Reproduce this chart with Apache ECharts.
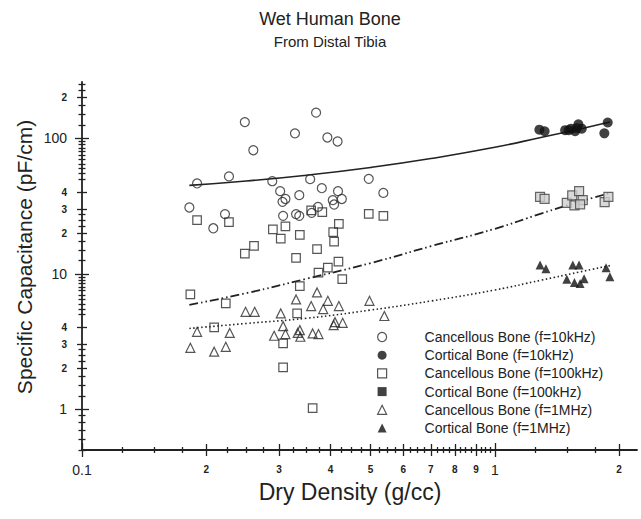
<!DOCTYPE html>
<html><head><meta charset="utf-8">
<script src="https://cdn.jsdelivr.net/npm/echarts@6/dist/echarts.min.js"></script>
<style>html,body{margin:0;padding:0;background:#fff}#c{width:641px;height:519px}</style>
</head><body><div id="c"></div>
<script>
// ---------------- data ----------------
const cancellous10k = [[0.248,132],[0.26,81.8],[0.369,155],[0.328,109],[0.393,101.6],[0.416,94.9],[0.19,46.5],[0.227,52.4],[0.289,48.3],[0.357,50],[0.495,50.3],[0.537,39.6],[0.182,30.9],[0.208,21.7],[0.222,27.6],[0.302,40.8],[0.306,34],[0.311,35.7],[0.336,38.1],[0.381,42.9],[0.417,40.8],[0.405,35],[0.426,35.7],[0.408,32.5],[0.307,26.8],[0.33,27.6],[0.336,26.8],[0.36,28.2],[0.373,31.2]];
const cortical10k = [[1.282,116],[1.32,113],[1.48,115],[1.53,118],[1.565,113],[1.594,127],[1.624,118],[1.58,119],[1.877,131],[1.842,109],[1.51,115]];
const cancellous100k = [[0.19,24.9],[0.227,24.1],[0.29,21.3],[0.311,22.4],[0.303,18.2],[0.337,19.4],[0.359,29.4],[0.382,28.6],[0.419,23.4],[0.406,20.3],[0.408,17.3],[0.261,16.1],[0.248,14.1],[0.371,15.2],[0.33,13.1],[0.418,12.3],[0.394,11.1],[0.374,10.2],[0.427,9.14],[0.337,8.12],[0.495,27.7],[0.537,26.8],[0.183,7.05],[0.223,6.05],[0.332,5.1],[0.209,4.02],[0.307,3.06],[0.307,2.04],[0.362,1.02]];
const cortical100k = [[1.287,37],[1.32,35.8],[1.494,33.4],[1.54,37.9],[1.6,40.8],[1.633,35],[1.559,32],[1.609,32.6],[1.845,33.8],[1.884,37]];
const cancellous1M = [[0.371,7.29],[0.33,6.47],[0.394,6.32],[0.359,5.78],[0.384,5.49],[0.419,5.78],[0.497,6.32],[0.54,4.88],[0.249,5.24],[0.262,5.24],[0.303,5.1],[0.19,3.73],[0.228,3.66],[0.183,2.84],[0.209,2.66],[0.223,2.89],[0.307,4.11],[0.292,3.49],[0.311,3.59],[0.337,3.84],[0.333,3.66],[0.338,3.43],[0.362,3.63],[0.374,3.59],[0.407,4.18],[0.428,4.35],[0.41,4.4]];
const cortical1M = [[1.287,11.6],[1.33,10.9],[1.545,11.6],[1.6,11.6],[1.494,9.1],[1.559,8.64],[1.609,8.5],[1.645,9.19],[1.86,11.1],[1.9,9.5]];

// fitted curves
const fitX = [0.182,0.25,0.35,0.5,0.7,1.0,1.3,1.6,1.9];
const fit10kY = [45,48.5,53.5,61,71,86,102,117,132];
const fit100kY = [5.9,7.2,9.2,12,16,21.5,28,34,39.5];
const fit1MY = [3.95,4.3,4.7,5.4,6.3,7.6,9.0,10.3,11.5];

const seriesNames = ['Cancellous Bone (f=10kHz)','Cortical Bone (f=10kHz)','Cancellous Bone (f=100kHz)','Cortical Bone (f=100kHz)','Cancellous Bone (f=1MHz)','Cortical Bone (f=1MHz)'];

// axes
const xRange = [0.1, 2.21];
const yRange = [0.5, 261];
const xDecadeTicks = [0.1, 1];
const xDecadeLabels = ['0.1', '1'];
const xDigitTicks = [0.2,0.3,0.4,0.5,0.6,0.7,0.8,0.9,2];
const xDigitLabels = ['2','3','4','5','6','7','8','9','2'];
const xMinorSpec = [[0.1,1,0.025],[1,2.21,0.25]];
const yDecadeTicks = [1, 10, 100];
const yDecadeLabels = ['1', '10', '100'];
const yDigitTicks = [2,3,4,20,30,40,200];
const yDigitLabels = ['2','3','4','2','3','4','2'];
const yMinorSpec = [[0.5,1,0.1],[1,3,0.25],[5,10,0.5],[10,30,2.5],[50,100,5],[100,261,25]];

// ---------------- build ----------------
const L = Math.log10;
function minorTicks(spec, exclude) {
  const out = [];
  spec.forEach(([a, b, s]) => {
    const n = Math.round((b - a) / s);
    for (let i = 0; i <= n; i++) {
      const v = +(a + i * s).toFixed(6);
      if (v > b + 1e-9) break;
      if (!exclude.some(e => Math.abs(e - v) < 1e-9) && !out.some(e => Math.abs(e - v) < 1e-9)) out.push(v);
    }
  });
  return out;
}
const xMinor = minorTicks(xMinorSpec, xDecadeTicks.concat(xDigitTicks));
const yMinor = minorTicks(yMinorSpec, yDecadeTicks.concat(yDigitTicks));

const INK = '#222';
const FONT = '"Liberation Sans", Arial, Helvetica, sans-serif';

function deco(dim, ticks, labels, len, inside, fontSize, weight, margin) {
  const rng = dim === 'x' ? xRange : yRange;
  const tv = ticks.map(L);
  return {
    type: 'value', gridIndex: 0,
    position: dim === 'x' ? 'bottom' : 'left',
    min: L(rng[0]), max: L(rng[1]),
    silent: true,
    axisLine: { show: false, onZero: false },
    splitLine: { show: false },
    axisTick: { show: true, inside: inside, length: len, customValues: tv, lineStyle: { color: INK, width: 1.3 } },
    axisLabel: labels ? {
      show: true, customValues: tv, margin: margin, color: INK,
      fontFamily: FONT, fontSize: fontSize, fontWeight: weight,
      hideOverlap: false,
      formatter: function (v) {
        for (let i = 0; i < tv.length; i++) if (Math.abs(tv[i] - v) < 1e-6) return labels[i];
        return '';
      }
    } : { show: false }
  };
}

const xAxes = [
  { type: 'log', logBase: 10, min: xRange[0], max: xRange[1], gridIndex: 0, position: 'bottom',
    axisLine: { show: true, onZero: false, lineStyle: { color: INK, width: 1.8 } },
    axisTick: { show: false }, axisLabel: { show: false }, splitLine: { show: false }, minorTick: { show: false } },
  deco('x', xDecadeTicks, xDecadeLabels, 7, false, 14, 'normal', 13),
  deco('x', xDecadeTicks, null, 7, true),
  deco('x', xDigitTicks, xDigitLabels, 6, false, 10, 'bold', 14),
  deco('x', xDigitTicks, null, 6, true),
  deco('x', xMinor, null, 3, false),
  deco('x', xMinor, null, 3, true)
];
const yAxes = [
  { type: 'log', logBase: 10, min: yRange[0], max: yRange[1], gridIndex: 0, position: 'left',
    axisLine: { show: true, onZero: false, lineStyle: { color: INK, width: 1.8 } },
    axisTick: { show: false }, axisLabel: { show: false }, splitLine: { show: false }, minorTick: { show: false } },
  deco('y', yDecadeTicks, yDecadeLabels, 7, false, 14, 'normal', 15),
  deco('y', yDecadeTicks, null, 7, true),
  deco('y', yDigitTicks, yDigitLabels, 5, false, 10, 'bold', 15),
  deco('y', yDigitTicks, null, 5, true),
  deco('y', yMinor, null, 3.5, false),
  deco('y', yMinor, null, 3.5, true)
];

const openStyle = { color: 'rgba(0,0,0,0)', borderColor: '#2a2a2a', borderWidth: 1.2 };
function scat(name, data, symbol, size, style) {
  return { type: 'scatter', name: name, data: data, symbol: symbol, symbolSize: size,
    xAxisIndex: 0, yAxisIndex: 0, itemStyle: style, z: 5, silent: true };
}
function fit(ys, type, width) {
  return { type: 'line', data: fitX.map((x, i) => [x, ys[i]]), smooth: true, showSymbol: false,
    xAxisIndex: 0, yAxisIndex: 0, z: 3, silent: true,
    lineStyle: { color: INK, width: width, type: type } };
}

const series = [
  fit(fit10kY, 'solid', 1.6),
  fit(fit100kY, [9, 3, 1.5, 3, 1.5, 3], 1.8),
  fit(fit1MY, [1.5, 2.5], 1.6),
  scat(seriesNames[0], cancellous10k, 'circle', 9, openStyle),
  scat(seriesNames[1], cortical10k, 'circle', 10, { color: '#111', borderColor: '#111', borderWidth: 0 }),
  scat(seriesNames[2], cancellous100k, 'rect', 8.5, openStyle),
  scat(seriesNames[3], cortical100k, 'rect', 9, { color: '#cfcfcf', borderColor: '#444', borderWidth: 1.2 }),
  scat(seriesNames[4], cancellous1M, 'triangle', 9, openStyle),
  scat(seriesNames[5], cortical1M, 'triangle', 9, { color: '#111', borderColor: '#111', borderWidth: 0 })
];

const legendData = [
  { name: seriesNames[0], icon: 'circle', itemStyle: openStyle },
  { name: seriesNames[1], icon: 'circle', itemStyle: { color: '#111', borderWidth: 0 } },
  { name: seriesNames[2], icon: 'rect', itemStyle: openStyle },
  { name: seriesNames[3], icon: 'rect', itemStyle: { color: '#111', borderWidth: 0 } },
  { name: seriesNames[4], icon: 'triangle', itemStyle: openStyle },
  { name: seriesNames[5], icon: 'triangle', itemStyle: { color: '#111', borderWidth: 0 } }
];

const chart = echarts.init(document.getElementById('c'), null, { renderer: 'svg', width: 641, height: 519 });
chart.setOption({
  animation: false,
  backgroundColor: '#fff',
  textStyle: { fontFamily: FONT },
  grid: { left: 82, top: 82, right: 4, bottom: 69, containLabel: false },
  xAxis: xAxes,
  yAxis: yAxes,
  legend: {
    data: legendData, orient: 'vertical', left: 377, top: 329, padding: 0,
    itemWidth: 9, itemHeight: 9, itemGap: 2.2, selectedMode: false,
    textStyle: { color: INK, fontSize: 14, lineHeight: 16, fontFamily: FONT, padding: [0, 0, 0, 33] }
  },
  graphic: [
    { type: 'text', x: 330, y: 19, silent: true,
      style: { text: 'Wet Human Bone', fill: INK, font: '18px ' + FONT, textAlign: 'center', textVerticalAlign: 'middle' } },
    { type: 'text', x: 330, y: 41, silent: true,
      style: { text: 'From Distal Tibia', fill: INK, font: '15px ' + FONT, textAlign: 'center', textVerticalAlign: 'middle' } },
    { type: 'text', x: 350, y: 492, silent: true,
      style: { text: 'Dry Density (g/cc)', fill: INK, font: '23px ' + FONT, textAlign: 'center', textVerticalAlign: 'middle' } },
    { type: 'text', x: 24, y: 257, rotation: Math.PI / 2, silent: true,
      style: { text: 'Specific Capacitance (pF/cm)', fill: INK, font: '21px ' + FONT, textAlign: 'center', textVerticalAlign: 'middle' } }
  ],
  series: series
});
</script>
</body></html>
